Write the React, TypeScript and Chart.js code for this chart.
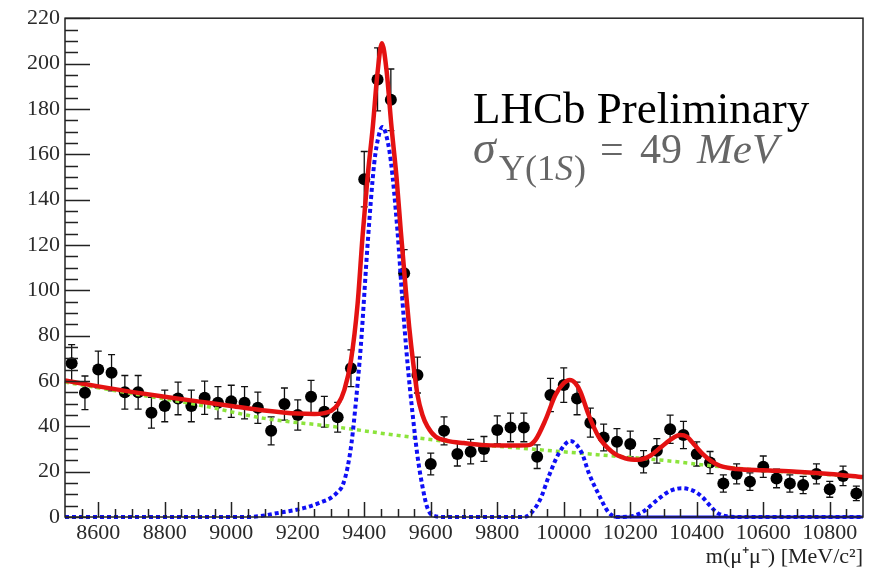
import React, { useEffect, useRef } from 'react';
import { Chart, registerables } from 'chart.js';

Chart.register(...registerables);

// ---- data ----
const binCenters = [
  8520, 8560, 8600, 8640, 8680, 8720, 8760, 8800, 8840, 8880,
  8920, 8960, 9000, 9040, 9080, 9120, 9160, 9200, 9240, 9280,
  9320, 9360, 9400, 9440, 9480, 9520, 9560, 9600, 9640, 9680,
  9720, 9760, 9800, 9840, 9880, 9920, 9960, 10000, 10040, 10080,
  10120, 10160, 10200, 10240, 10280, 10320, 10360, 10400, 10440, 10480,
  10520, 10560, 10600, 10640, 10680, 10720, 10760, 10800, 10840, 10880,
];
const counts = [
  67.8, 54.8, 65.1, 63.6, 55, 55, 46, 49, 52.3, 49,
  52.6, 50.4, 51, 50.4, 48.2, 38, 49.8, 45, 53, 46.4,
  44, 65.6, 149, 193, 184, 107.5, 62.6, 23.4, 38, 27.8,
  28.8, 30, 38.4, 39.5, 39.5, 26.6, 53.8, 58.2, 52.3, 41.6,
  35.1, 33.2, 32.2, 24.4, 29.2, 38.7, 36.2, 27.8, 24, 14.8,
  19, 15.6, 22.2, 17, 14.8, 14.1, 19, 12.2, 18.1, 10.4,
];
const countErrors = [
  8.2, 7.4, 8.1, 8.0, 7.4, 7.4, 6.8, 7.0, 7.2, 7.0,
  7.3, 7.1, 7.1, 7.1, 6.9, 6.2, 7.1, 6.7, 7.3, 6.8,
  6.6, 8.1, 12.2, 13.9, 13.6, 10.4, 7.9, 4.8, 6.2, 5.3,
  5.4, 5.5, 6.2, 6.3, 6.3, 5.2, 7.3, 7.6, 7.2, 6.4,
  5.9, 5.8, 5.7, 4.9, 5.4, 6.2, 6.0, 5.3, 4.9, 3.8,
  4.4, 3.9, 4.7, 4.1, 3.8, 3.8, 4.4, 3.5, 4.3, 3.2,
];

// total fit (red)
const fitX = [
  8500, 8600, 8700, 8800, 8900, 9000, 9100, 9200, 9250, 9280, 9300, 9320, 9340, 9360, 9380, 9395,
  9410, 9425, 9440, 9453, 9467, 9482, 9497, 9510, 9525, 9535, 9548, 9560, 9575, 9590, 9615, 9650,
  9700, 9765, 9850, 9895, 9915, 9945, 9975, 10000, 10018, 10035, 10050, 10075, 10105, 10145, 10185,
  10225, 10260, 10290, 10320, 10350, 10370, 10395, 10420, 10445, 10470, 10520, 10600, 10700, 10800, 10900,
];
const fitY = [
  60.2, 57.6, 55.2, 53.0, 51.0, 49.0, 47.0, 45.6, 45.4, 45.8, 46.8, 49.5, 56, 69, 94, 124,
  150, 171, 196, 209, 197, 172, 150, 126, 100, 84, 67, 54, 45, 40, 35.4, 33.6,
  32.6, 31.7, 31.5, 31.7, 34, 42.8, 53.8, 59, 60.4, 59, 55.3, 45, 35.4, 28.8, 25.9,
  25.2, 27, 30.5, 34, 36.2, 35.5, 31.5, 27.5, 24.5, 22.5, 21.2, 20.6, 20, 19, 17.6,
];

// background (green dotted)
const bkgX = [8500, 8700, 8900, 9100, 9300, 9500, 9700, 9900, 10100, 10300, 10450, 10600, 10750, 10900];
const bkgY = [59.5, 54.5, 49.5, 43.5, 40, 36, 32.5, 30, 27.5, 25, 22.5, 20.5, 19.2, 17.6];

// signal (blue dotted)
const sigX = [
  8500, 9050, 9150, 9220, 9270, 9300, 9320, 9335, 9350, 9362, 9375, 9390, 9410, 9430, 9445, 9455, 9465,
  9480, 9500, 9515, 9530, 9545, 9560, 9575, 9590, 9610, 9640, 9880, 9900, 9930, 9955, 9985, 10020,
  10055, 10075, 10105, 10135, 10160, 10210, 10240, 10285, 10320, 10355, 10390, 10415, 10440, 10460,
  10490, 10520, 10900,
];
const sigY = [
  0, 0, 2, 4, 6.5, 8.5, 11, 14, 22, 33, 51, 76, 120, 156, 169, 172, 169,
  157, 126, 95, 68, 46, 27, 13.5, 4, 0.5, 0, 0, 1.5, 8, 18, 28, 33.5,
  28, 19.5, 10, 2, 0, 0.5, 2.5, 8, 11.5, 12.7, 11.5, 9, 5, 2,
  0.3, 0, 0,
];
const sigBaseX = [10150, 10900];
const sigBaseY = [0, 0];

const xTicks = [8600, 8800, 9000, 9200, 9400, 9600, 9800, 10000, 10200, 10400, 10600, 10800];
const yTicks = [0, 20, 40, 60, 80, 100, 120, 140, 160, 180, 200, 220];

const toXY = (xs: number[], ys: number[]) => xs.map((x, i) => ({ x, y: ys[i] }));

export default function App() {
  const ref = useRef<HTMLCanvasElement>(null);

  useEffect(() => {
    const canvas = ref.current;
    if (!canvas) return;

    const errorBars = {
      id: 'errorBars',
      beforeDatasetsDraw(chart: any) {
        const { ctx, scales } = chart;
        const x = scales.x, y = scales.y;
        ctx.save();
        ctx.strokeStyle = '#111';
        ctx.lineWidth = 1.3;
        binCenters.forEach((c, i) => {
          const px = x.getPixelForValue(c);
          const top = y.getPixelForValue(counts[i] + countErrors[i]);
          const bot = y.getPixelForValue(counts[i] - countErrors[i]);
          ctx.beginPath();
          ctx.moveTo(px, top); ctx.lineTo(px, bot);
          ctx.moveTo(px - 3.5, top); ctx.lineTo(px + 3.5, top);
          ctx.moveTo(px - 3.5, bot); ctx.lineTo(px + 3.5, bot);
          ctx.stroke();
        });
        ctx.restore();
      },
    };

    const frame = {
      id: 'frame',
      afterDraw(chart: any) {
        const { ctx, chartArea, scales } = chart;
        const x = scales.x, y = scales.y;
        const { left, right, top, bottom } = chartArea;
        ctx.save();
        ctx.strokeStyle = '#222';
        ctx.lineWidth = 1.5;
        ctx.strokeRect(left, top, right - left, bottom - top);
        ctx.beginPath();
        // y ticks (inward)
        for (let v = 0; v <= 220; v += 5) {
          const py = Math.round(y.getPixelForValue(v)) + 0.5;
          const len = v % 20 === 0 ? 25 : 13;
          ctx.moveTo(left, py); ctx.lineTo(left + len, py);
        }
        // x ticks (inward)
        for (let v = 8550; v < 10900; v += 50) {
          const px = Math.round(x.getPixelForValue(v)) + 0.5;
          const len = v % 200 === 0 ? 15 : 8;
          ctx.moveTo(px, bottom); ctx.lineTo(px, bottom - len);
        }
        ctx.stroke();

        // axis title
        ctx.fillStyle = '#222';
        ctx.font = '22px "Liberation Serif"';
        ctx.textAlign = 'right';
        ctx.textBaseline = 'alphabetic';
        ctx.fillText('m(\u03bc\u207a\u03bc\u207b) [MeV/c\u00b2]', right, 563);

        // annotation
        ctx.textAlign = 'left';
        ctx.fillStyle = '#000';
        ctx.font = '45px "Liberation Serif"';
        ctx.fillText('LHCb Preliminary', 473, 123);

        ctx.fillStyle = '#666';
        ctx.font = 'italic 46px "Liberation Serif"';
        ctx.fillText('\u03c3', 473, 163);
        let cx = 499;
        ctx.font = '36px "Liberation Serif"';
        ctx.fillText('\u03a5(1', cx, 180);
        cx += ctx.measureText('\u03a5(1').width;
        ctx.font = 'italic 36px "Liberation Serif"';
        ctx.fillText('S', cx, 180);
        cx += ctx.measureText('S').width + 1;
        ctx.font = '36px "Liberation Serif"';
        ctx.fillText(')', cx, 180);
        ctx.font = '42px "Liberation Serif"';
        ctx.fillText('=', 600, 163);
        ctx.fillText('49', 640, 163);
        ctx.font = 'italic 43px "Liberation Serif"';
        ctx.fillText('MeV', 697, 163);
        ctx.restore();
      },
    };

    const chart = new Chart(canvas, {
      type: 'scatter',
      data: {
        datasets: [
          {
            label: 'Total fit',
            data: toXY(fitX, fitY),
            showLine: true,
            borderColor: 'rgb(228,18,18)',
            borderWidth: 4.5,
            pointRadius: 0,
            cubicInterpolationMode: 'monotone',
            clip: false,
            order: 0,
          },
          {
            label: 'Signal',
            data: toXY(sigX, sigY),
            showLine: true,
            borderColor: 'rgb(15,15,245)',
            borderWidth: 4,
            borderDash: [4, 3],
            pointRadius: 0,
            cubicInterpolationMode: 'monotone',
            clip: false,
            order: 1,
          },
          {
            label: 'Signal baseline',
            data: toXY(sigBaseX, sigBaseY),
            showLine: true,
            borderColor: 'rgb(15,15,245)',
            borderWidth: 3,
            pointRadius: 0,
            clip: false,
            order: 1,
          },
          {
            label: 'Background',
            data: toXY(bkgX, bkgY),
            showLine: true,
            borderColor: 'rgb(140,228,60)',
            borderWidth: 3.5,
            borderDash: [4, 4],
            pointRadius: 0,
            cubicInterpolationMode: 'monotone',
            clip: false,
            order: 2,
          },
          {
            label: 'Data',
            data: toXY(binCenters, counts),
            showLine: false,
            backgroundColor: '#000',
            borderColor: '#000',
            pointRadius: 6,
            pointBorderWidth: 0,
            pointStyle: 'circle',
            order: 3,
          },
        ],
      },
      options: {
        responsive: false,
        animation: false,
        events: [],
        layout: { padding: { top: 18, right: 4, left: 0, bottom: 0 } },
        plugins: { legend: { display: false }, tooltip: { enabled: false } },
        scales: {
          x: {
            type: 'linear',
            min: 8500,
            max: 10900,
            grid: { display: false, drawTicks: false },
            border: { display: false },
            afterBuildTicks: (s: any) => { s.ticks = xTicks.map((v) => ({ value: v })); },
            afterFit: (s: any) => { s.height = 57; },
            ticks: {
              padding: 3,
              maxRotation: 0,
              autoSkip: false,
              color: '#2a2a2a',
              font: { family: '"Liberation Serif"', size: 22 },
              callback: (v: any) => String(v),
            },
          },
          y: {
            type: 'linear',
            min: 0,
            max: 220,
            grid: { display: false, drawTicks: false },
            border: { display: false },
            afterBuildTicks: (s: any) => { s.ticks = yTicks.map((v) => ({ value: v })); },
            afterFit: (s: any) => { s.width = 65; },
            ticks: {
              padding: 5,
              autoSkip: false,
              color: '#2a2a2a',
              font: { family: '"Liberation Serif"', size: 22 },
              callback: (v: any) => String(v),
            },
          },
        },
      },
      plugins: [errorBars, frame],
    } as any);

    return () => chart.destroy();
  }, []);

  return (
    <div style={{ position: 'fixed', left: 0, top: 0, width: 869, height: 574, background: '#fff' }}>
      <canvas ref={ref} width={869} height={574} style={{ display: 'block' }} />
    </div>
  );
}
